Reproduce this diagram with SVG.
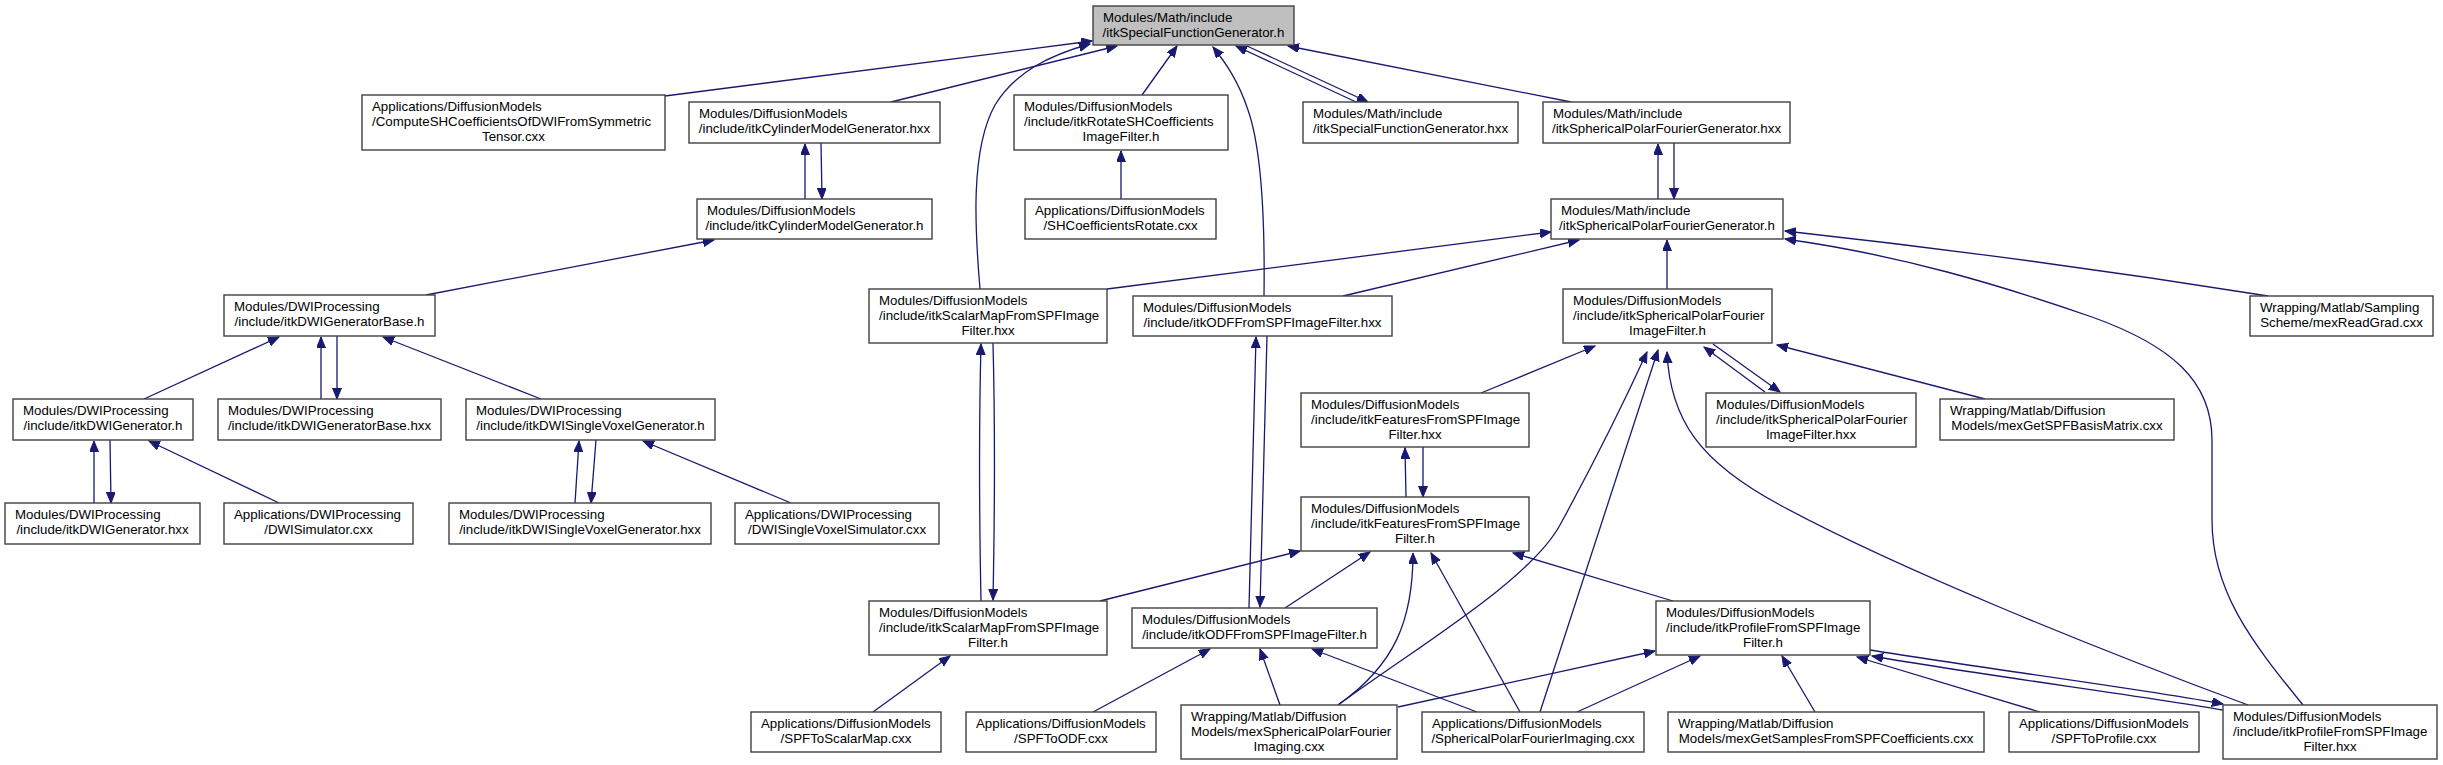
<svg xmlns="http://www.w3.org/2000/svg" width="2443" height="765" viewBox="0 0 2443 765">
<defs>
<marker id="a" markerWidth="12" markerHeight="10" refX="11" refY="4.5" orient="auto" markerUnits="userSpaceOnUse">
<path d="M0,0 L11,4.5 L0,9 z" fill="#191970" stroke="#191970" stroke-width="1"/>
</marker>
</defs>
<style>
.n rect{fill:#ffffff;stroke:#404040;stroke-width:1.4}
#n1 rect{fill:#bfbfbf}
text{font-family:"Liberation Sans",Arial,Helvetica,sans-serif;font-size:13.3px;fill:#000000}
.m{text-anchor:middle}
.c path{fill:none;stroke:#191970;stroke-width:1.3;marker-end:url(#a)}
</style>
<rect x="0" y="0" width="2443" height="765" fill="#ffffff"/>
<g id="edges" class="c">
<path d="M665,96 L1092,41"/>
<path d="M891,102 L1117,46"/>
<path d="M980,289 C975,230 970,150 995,105 C1015,72 1050,55 1090,44"/>
<path d="M1142,95 L1177,46"/>
<path d="M1264,296 C1265,220 1262,150 1248,110 C1238,80 1225,62 1213,47"/>
<path d="M1356,102 L1236,46"/>
<path d="M1247,46 L1368,102"/>
<path d="M1571,102 L1288,46"/>
<path d="M805,199 L805,144"/>
<path d="M821,143 L822,199"/>
<path d="M1121,199 L1121,151"/>
<path d="M426,295 L714,240"/>
<path d="M1658,199 L1658,144"/>
<path d="M1674,143 L1674,199"/>
<path d="M1107,289 L1551,232"/>
<path d="M1343,296 L1579,240"/>
<path d="M1667,289 L1667,240"/>
<path d="M2268,296 Q2030,258 1785,231"/>
<path d="M2303,705 C2250,640 2212,590 2212,520 L2212,440 C2212,380 2170,345 2092,317 C2000,285 1900,255 1785,239"/>
<path d="M144,399 L279,337"/>
<path d="M321,399 L321,337"/>
<path d="M337,336 L337,399"/>
<path d="M541,399 L383,337"/>
<path d="M94,503 L94,441"/>
<path d="M110,440 L111,503"/>
<path d="M279,503 L149,441"/>
<path d="M575,503 L579,441"/>
<path d="M596,440 L591,503"/>
<path d="M791,503 L643,441"/>
<path d="M981,601 C979,500 979,420 981,344"/>
<path d="M993,343 C995,420 995,500 993,600"/>
<path d="M1249,608 L1256,337"/>
<path d="M1267,336 L1260,607"/>
<path d="M1481,393 L1595,346"/>
<path d="M1338,705 C1420,645 1530,580 1560,525 C1590,470 1625,400 1647,352"/>
<path d="M1540,712 L1658,350"/>
<path d="M2248,705 C2100,650 1900,570 1780,505 C1700,462 1670,420 1667,352"/>
<path d="M1765,392 L1704,347"/>
<path d="M1713,344 L1780,392"/>
<path d="M1985,399 L1777,345"/>
<path d="M1406,497 L1405,448"/>
<path d="M1423,447 L1423,497"/>
<path d="M1100,601 L1300,551"/>
<path d="M1285,608 L1370,552"/>
<path d="M1338,705 C1395,665 1413,620 1413,553"/>
<path d="M1520,712 L1431,553"/>
<path d="M1673,601 L1513,553"/>
<path d="M873,712 L950,656"/>
<path d="M1093,712 L1210,649"/>
<path d="M1280,705 L1260,649"/>
<path d="M1477,712 L1312,649"/>
<path d="M1398,707 L1655,651"/>
<path d="M1577,712 L1700,656"/>
<path d="M1815,712 L1782,656"/>
<path d="M2040,712 L1857,657"/>
<path d="M1870,650 C1960,665 2150,690 2223,704"/>
<path d="M2223,710 C2150,697 1960,672 1872,656"/>
</g>
<g id="n1" class="n"><rect x="1093" y="6" width="201" height="39"/><text x="1103" y="22">Modules/Math/include</text><text class="m" x="1193.5" y="37">/itkSpecialFunctionGenerator.h</text></g>
<g id="n2" class="n"><rect x="362" y="95" width="303" height="55"/><text x="372" y="111">Applications/DiffusionModels</text><text x="372" y="126">/ComputeSHCoefficientsOfDWIFromSymmetric</text><text class="m" x="513.5" y="141">Tensor.cxx</text></g>
<g id="n3" class="n"><rect x="689" y="102" width="251" height="41"/><text x="699" y="118">Modules/DiffusionModels</text><text class="m" x="814.5" y="133">/include/itkCylinderModelGenerator.hxx</text></g>
<g id="n4" class="n"><rect x="1014" y="95" width="214" height="55"/><text x="1024" y="111">Modules/DiffusionModels</text><text x="1024" y="126">/include/itkRotateSHCoefficients</text><text class="m" x="1121" y="141">ImageFilter.h</text></g>
<g id="n5" class="n"><rect x="1303" y="102" width="215" height="41"/><text x="1313" y="118">Modules/Math/include</text><text class="m" x="1410.5" y="133">/itkSpecialFunctionGenerator.hxx</text></g>
<g id="n6" class="n"><rect x="1543" y="102" width="247" height="41"/><text x="1553" y="118">Modules/Math/include</text><text class="m" x="1666.5" y="133">/itkSphericalPolarFourierGenerator.hxx</text></g>
<g id="n7" class="n"><rect x="697" y="199" width="235" height="40"/><text x="707" y="215">Modules/DiffusionModels</text><text class="m" x="814.5" y="230">/include/itkCylinderModelGenerator.h</text></g>
<g id="n8" class="n"><rect x="1025" y="199" width="191" height="40"/><text x="1035" y="215">Applications/DiffusionModels</text><text class="m" x="1120.5" y="230">/SHCoefficientsRotate.cxx</text></g>
<g id="n9" class="n"><rect x="1551" y="199" width="232" height="40"/><text x="1561" y="215">Modules/Math/include</text><text class="m" x="1667" y="230">/itkSphericalPolarFourierGenerator.h</text></g>
<g id="n10" class="n"><rect x="224" y="295" width="211" height="41"/><text x="234" y="311">Modules/DWIProcessing</text><text class="m" x="329.5" y="326">/include/itkDWIGeneratorBase.h</text></g>
<g id="n11" class="n"><rect x="869" y="289" width="238" height="54"/><text x="879" y="305">Modules/DiffusionModels</text><text x="879" y="320">/include/itkScalarMapFromSPFImage</text><text class="m" x="988" y="335">Filter.hxx</text></g>
<g id="n12" class="n"><rect x="1133" y="296" width="259" height="40"/><text x="1143" y="312">Modules/DiffusionModels</text><text class="m" x="1262.5" y="327">/include/itkODFFromSPFImageFilter.hxx</text></g>
<g id="n13" class="n"><rect x="1563" y="289" width="209" height="54"/><text x="1573" y="305">Modules/DiffusionModels</text><text x="1573" y="320">/include/itkSphericalPolarFourier</text><text class="m" x="1667.5" y="335">ImageFilter.h</text></g>
<g id="n14" class="n"><rect x="2250" y="296" width="183" height="40"/><text x="2260" y="312">Wrapping/Matlab/Sampling</text><text class="m" x="2341.5" y="327">Scheme/mexReadGrad.cxx</text></g>
<g id="n15" class="n"><rect x="13" y="399" width="180" height="41"/><text x="23" y="415">Modules/DWIProcessing</text><text class="m" x="103" y="430">/include/itkDWIGenerator.h</text></g>
<g id="n16" class="n"><rect x="218" y="399" width="223" height="41"/><text x="228" y="415">Modules/DWIProcessing</text><text class="m" x="329.5" y="430">/include/itkDWIGeneratorBase.hxx</text></g>
<g id="n17" class="n"><rect x="466" y="399" width="249" height="41"/><text x="476" y="415">Modules/DWIProcessing</text><text class="m" x="590.5" y="430">/include/itkDWISingleVoxelGenerator.h</text></g>
<g id="n18" class="n"><rect x="1301" y="393" width="228" height="54"/><text x="1311" y="409">Modules/DiffusionModels</text><text x="1311" y="424">/include/itkFeaturesFromSPFImage</text><text class="m" x="1415" y="439">Filter.hxx</text></g>
<g id="n19" class="n"><rect x="1706" y="393" width="210" height="54"/><text x="1716" y="409">Modules/DiffusionModels</text><text x="1716" y="424">/include/itkSphericalPolarFourier</text><text class="m" x="1811" y="439">ImageFilter.hxx</text></g>
<g id="n20" class="n"><rect x="1940" y="399" width="234" height="41"/><text x="1950" y="415">Wrapping/Matlab/Diffusion</text><text class="m" x="2057" y="430">Models/mexGetSPFBasisMatrix.cxx</text></g>
<g id="n21" class="n"><rect x="5" y="503" width="195" height="41"/><text x="15" y="519">Modules/DWIProcessing</text><text class="m" x="102.5" y="534">/include/itkDWIGenerator.hxx</text></g>
<g id="n22" class="n"><rect x="224" y="503" width="189" height="41"/><text x="234" y="519">Applications/DWIProcessing</text><text class="m" x="318.5" y="534">/DWISimulator.cxx</text></g>
<g id="n23" class="n"><rect x="449" y="503" width="262" height="41"/><text x="459" y="519">Modules/DWIProcessing</text><text class="m" x="580" y="534">/include/itkDWISingleVoxelGenerator.hxx</text></g>
<g id="n24" class="n"><rect x="735" y="503" width="204" height="41"/><text x="745" y="519">Applications/DWIProcessing</text><text class="m" x="837" y="534">/DWISingleVoxelSimulator.cxx</text></g>
<g id="n25" class="n"><rect x="1301" y="497" width="228" height="54"/><text x="1311" y="513">Modules/DiffusionModels</text><text x="1311" y="528">/include/itkFeaturesFromSPFImage</text><text class="m" x="1415" y="543">Filter.h</text></g>
<g id="n26" class="n"><rect x="869" y="601" width="238" height="54"/><text x="879" y="617">Modules/DiffusionModels</text><text x="879" y="632">/include/itkScalarMapFromSPFImage</text><text class="m" x="988" y="647">Filter.h</text></g>
<g id="n27" class="n"><rect x="1132" y="608" width="245" height="40"/><text x="1142" y="624">Modules/DiffusionModels</text><text class="m" x="1254.5" y="639">/include/itkODFFromSPFImageFilter.h</text></g>
<g id="n28" class="n"><rect x="1656" y="601" width="214" height="54"/><text x="1666" y="617">Modules/DiffusionModels</text><text x="1666" y="632">/include/itkProfileFromSPFImage</text><text class="m" x="1763" y="647">Filter.h</text></g>
<g id="n29" class="n"><rect x="751" y="712" width="190" height="40"/><text x="761" y="728">Applications/DiffusionModels</text><text class="m" x="846" y="743">/SPFToScalarMap.cxx</text></g>
<g id="n30" class="n"><rect x="966" y="712" width="190" height="40"/><text x="976" y="728">Applications/DiffusionModels</text><text class="m" x="1061" y="743">/SPFToODF.cxx</text></g>
<g id="n31" class="n"><rect x="1181" y="705" width="216" height="54"/><text x="1191" y="721">Wrapping/Matlab/Diffusion</text><text x="1191" y="736">Models/mexSphericalPolarFourier</text><text class="m" x="1289" y="751">Imaging.cxx</text></g>
<g id="n32" class="n"><rect x="1422" y="712" width="222" height="40"/><text x="1432" y="728">Applications/DiffusionModels</text><text class="m" x="1533" y="743">/SphericalPolarFourierImaging.cxx</text></g>
<g id="n33" class="n"><rect x="1668" y="712" width="316" height="40"/><text x="1678" y="728">Wrapping/Matlab/Diffusion</text><text class="m" x="1826" y="743">Models/mexGetSamplesFromSPFCoefficients.cxx</text></g>
<g id="n34" class="n"><rect x="2009" y="712" width="190" height="40"/><text x="2019" y="728">Applications/DiffusionModels</text><text class="m" x="2104" y="743">/SPFToProfile.cxx</text></g>
<g id="n35" class="n"><rect x="2223" y="705" width="214" height="54"/><text x="2233" y="721">Modules/DiffusionModels</text><text x="2233" y="736">/include/itkProfileFromSPFImage</text><text class="m" x="2330" y="751">Filter.hxx</text></g>
</svg>
